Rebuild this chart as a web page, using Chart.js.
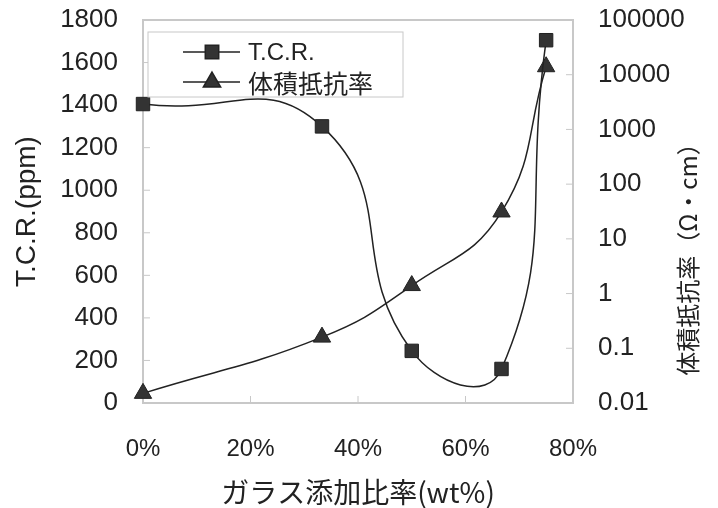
<!DOCTYPE html>
<html lang="ja">
<head>
<meta charset="utf-8">
<title>T.C.R. / 体積抵抗率</title>
<script src="https://cdn.jsdelivr.net/npm/chart.js@4.4.1/dist/chart.umd.min.js"></script>
<style>
  html, body { margin: 0; padding: 0; background: #fff; }
  #wrap { width: 718px; height: 508px; }
</style>
</head>
<body>
<div id="wrap"><canvas id="tcrChart" width="718" height="508"></canvas></div>
<script>
// données
const glassRatio = [0, 33.3, 50, 66.7, 75];            // ガラス添加比率 (wt%)
const tcrValues = [1405, 1300, 245, 160, 1705];        // T.C.R. (ppm)
const resistivityValues = [0.015, 0.16, 1.4, 31, 14000]; // 体積抵抗率 (Ω·cm)

const xTicks = [0, 20, 40, 60, 80];
const tcrTicks = [0, 200, 400, 600, 800, 1000, 1200, 1400, 1600, 1800];
const resistivityTicks = [0.01, 0.1, 1, 10, 100, 1000, 10000, 100000];

const FONT = "'Liberation Sans', 'Noto Sans CJK JP', sans-serif";
const JP_FONT = "'Noto Sans CJK JP', 'Liberation Sans', sans-serif";
const FRAME = '#c8c8c8';
const INK = '#222';
const MARK = '#333';

// pas de marge automatique pour les étiquettes : la zone du graphique est fixée par layout.padding
function noLabelPadding(s) {
  s.paddingTop = 0; s.paddingBottom = 0;
  s.paddingLeft = 0; s.paddingRight = 0;
}

// cadre gris + petites graduations vers l'intérieur
const framePlugin = {
  id: 'frame',
  beforeDatasetsDraw(chart) {
    const { ctx, chartArea: a, scales } = chart;
    ctx.save();
    ctx.strokeStyle = FRAME;
    ctx.lineWidth = 2;
    ctx.strokeRect(a.left, a.top, a.right - a.left, a.bottom - a.top);
    ctx.lineWidth = 1;
    ctx.beginPath();
    scales.y.ticks.forEach(t => {
      const y = scales.y.getPixelForValue(t.value);
      ctx.moveTo(a.left, y); ctx.lineTo(a.left + 7, y);
    });
    scales.y2.ticks.forEach(t => {
      const y = scales.y2.getPixelForValue(t.value);
      ctx.moveTo(a.right - 7, y); ctx.lineTo(a.right, y);
    });
    scales.x.ticks.forEach(t => {
      const x = scales.x.getPixelForValue(t.value);
      ctx.moveTo(x, a.bottom); ctx.lineTo(x, a.bottom - 7);
    });
    ctx.stroke();
    ctx.restore();
  }
};

// légende dans la zone du graphique + titre de l'axe droit (lu de bas en haut)
const legendPlugin = {
  id: 'innerLegend',
  afterDraw(chart) {
    const { ctx, chartArea: a } = chart;
    const bx = a.left + 5, by = a.top + 12, bw = 255, bh = 65;
    ctx.save();
    ctx.fillStyle = '#fff';
    ctx.fillRect(bx, by, bw, bh);
    ctx.strokeStyle = FRAME;
    ctx.lineWidth = 1;
    ctx.strokeRect(bx, by, bw, bh);

    chart.data.datasets.forEach((ds, i) => {
      const y = by + 20 + i * 30;
      ctx.strokeStyle = INK;
      ctx.lineWidth = 1.5;
      ctx.beginPath();
      ctx.moveTo(bx + 35, y);
      ctx.lineTo(bx + 92, y);
      ctx.stroke();
      ctx.fillStyle = MARK;
      ctx.strokeStyle = INK;
      Chart.helpers.drawPoint(ctx, {
        pointStyle: ds.pointStyle, radius: ds.pointRadius, rotation: 0, borderWidth: 1
      }, bx + 64, y);
      ctx.fillStyle = INK;
      ctx.font = i === 0 ? `24px ${FONT}` : `25px ${JP_FONT}`;
      ctx.textAlign = 'left';
      ctx.textBaseline = 'middle';
      ctx.fillText(ds.label, bx + 100, y + 1);
    });

    ctx.translate(688, (a.top + a.bottom) / 2 + 42);
    ctx.rotate(-Math.PI / 2);
    ctx.font = `24px ${JP_FONT}`;
    ctx.textAlign = 'center';
    ctx.textBaseline = 'middle';
    ctx.fillStyle = INK;
    ctx.fillText('体積抵抗率（Ω・cm）', 0, 0);
    ctx.restore();
  }
};

new Chart(document.getElementById('tcrChart'), {
  type: 'line',
  data: {
    datasets: [{
      label: 'T.C.R.',
      data: glassRatio.map((x, i) => ({ x, y: tcrValues[i] })),
      yAxisID: 'y',
      borderColor: INK,
      borderWidth: 1.5,
      pointStyle: 'rect',
      pointRadius: 9.5,
      pointBackgroundColor: MARK,
      pointBorderColor: INK,
      pointBorderWidth: 1,
      tension: 0.5,
      capBezierPoints: false,
      clip: false,
    }, {
      label: '体積抵抗率',
      data: glassRatio.map((x, i) => ({ x, y: resistivityValues[i] })),
      yAxisID: 'y2',
      borderColor: INK,
      borderWidth: 1.5,
      pointStyle: 'triangle',
      pointRadius: 10,
      pointBackgroundColor: MARK,
      pointBorderColor: INK,
      pointBorderWidth: 1,
      tension: 0.45,
      capBezierPoints: false,
      clip: false,
    }]
  },
  options: {
    responsive: false,
    animation: false,
    layout: { padding: { top: 20, left: 0, right: 0, bottom: 0 } },
    plugins: { legend: { display: false }, tooltip: { enabled: false } },
    scales: {
      x: {
        type: 'linear',
        min: 0, max: 80,
        afterBuildTicks: s => { s.ticks = xTicks.map(v => ({ value: v })); },
        afterFit: s => { s.height = 105; noLabelPadding(s); },
        grid: { display: false, drawTicks: false },
        border: { display: false },
        ticks: {
          padding: 32,
          color: INK,
          font: { family: FONT, size: 24 },
          callback: v => v + '%',
        },
        title: {
          display: true,
          text: 'ガラス添加比率(wt%)',
          color: INK,
          font: { family: JP_FONT, size: 28, lineHeight: 1.1 },
          padding: { top: 0, bottom: 0 },
        },
      },
      y: {
        type: 'linear',
        position: 'left',
        min: 0, max: 1800,
        afterBuildTicks: s => { s.ticks = tcrTicks.map(v => ({ value: v })); },
        afterFit: s => { s.width = 143; noLabelPadding(s); },
        grid: { display: false, drawTicks: false },
        border: { display: false },
        ticks: {
          padding: 25,
          color: INK,
          font: { family: FONT, size: 26 },
          callback: v => String(v),
        },
        title: {
          display: true,
          text: 'T.C.R.(ppm)',
          color: INK,
          font: { family: FONT, size: 28 },
          padding: { top: 10, bottom: 0 },
        },
      },
      y2: {
        type: 'logarithmic',
        position: 'right',
        min: 0.01, max: 100000,
        afterBuildTicks: s => { s.ticks = resistivityTicks.map(v => ({ value: v })); },
        afterFit: s => { s.width = 145; noLabelPadding(s); },
        grid: { display: false, drawTicks: false },
        border: { display: false },
        ticks: {
          padding: 25,
          color: INK,
          font: { family: FONT, size: 26 },
          callback: v => String(v),
        },
      },
    },
  },
  plugins: [framePlugin, legendPlugin],
});
</script>
</body>
</html>
